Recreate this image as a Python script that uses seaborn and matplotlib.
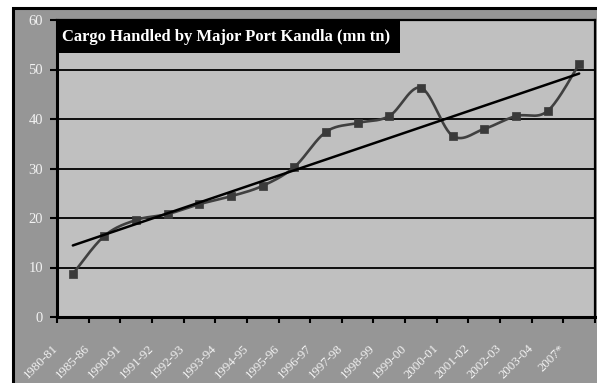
import numpy as np
import pandas as pd
import matplotlib
matplotlib.use("Agg")
import matplotlib.pyplot as plt
import matplotlib.transforms as mtransforms
from matplotlib.patches import Rectangle
import seaborn as sns

# Cargo handled at Kandla port, million tonnes
years = ["1980-81", "1985-86", "1990-91", "1991-92", "1992-93", "1993-94",
         "1994-95", "1995-96", "1996-97", "1997-98", "1998-99", "1999-00",
         "2000-01", "2001-02", "2002-03", "2003-04", "2007*"]
cargo = [8.7, 16.4, 19.6, 20.8, 22.8, 24.4, 26.5, 30.3, 37.4, 39.2, 40.6,
         46.3, 36.6, 38.0, 40.6, 41.6, 51.1]
title = "Cargo Handled by Major Port Kandla (mn tn)"

sns.set_style("white")
plt.rcParams["font.family"] = ["Liberation Serif", "DejaVu Serif"]

df = pd.DataFrame({"pos": np.arange(len(years)), "year": years, "cargo": cargo})


def catmull_rom(x, y, n=30):
    """Smooth curve through the points (uniform Catmull-Rom)."""
    p = np.column_stack([x, y]).astype(float)
    p = np.vstack([p[0], p, p[-1]])
    out = []
    t = np.linspace(0, 1, n, endpoint=False)
    for i in range(1, len(p) - 2):
        p0, p1, p2, p3 = p[i - 1], p[i], p[i + 1], p[i + 2]
        c1 = p1 + (p2 - p0) / 6.0
        c2 = p2 - (p3 - p1) / 6.0
        seg = ((1 - t) ** 3)[:, None] * p1 + (3 * (1 - t) ** 2 * t)[:, None] * c1 \
            + (3 * (1 - t) * t ** 2)[:, None] * c2 + (t ** 3)[:, None] * p2
        out.append(seg)
    out.append(p[-2][None, :])
    out = np.vstack(out)
    return out[:, 0], out[:, 1]


W, H = 597, 383
fig = plt.figure(figsize=(W / 100, H / 100), dpi=100, facecolor="white")

# outer chart frame
frame = Rectangle((13 / W, -0.2), 1.2, 1.2 - 8 / H, transform=fig.transFigure,
                  facecolor="#969696", edgecolor="black", linewidth=2.2)
frame.set_zorder(-10)
fig.patches.append(frame)

left, right, top, bottom = 57, 595, 20, 317
ax = fig.add_axes([left / W, 1 - bottom / H, (right - left) / W, (bottom - top) / H])
ax.set_zorder(1)
ax.set_facecolor("#C0C0C0")

# horizontal gridlines
for v in range(10, 60, 10):
    ax.axhline(v, color="black", lw=1.3, zorder=1)

# smoothed series line
sx, sy = catmull_rom(df["pos"].values, df["cargo"].values)
ax.plot(sx, sy, color="#404040", lw=1.9, zorder=3, solid_capstyle="round")

# square markers
sns.scatterplot(data=df, x="pos", y="cargo", marker="s", s=26, color="#3a3a3a",
                edgecolor="#3a3a3a", linewidth=0.5, zorder=4, ax=ax, legend=False)

# linear trend line
sns.regplot(data=df, x="pos", y="cargo", scatter=False, ci=None, truncate=True,
            line_kws={"color": "black", "lw": 1.8, "zorder": 5}, ax=ax)

ax.set_xlim(-0.5, len(years) - 0.5)
ax.set_ylim(0, 60)
ax.set_xlabel("")
ax.set_ylabel("")

# y axis
ax.set_yticks(range(0, 61, 10))
ax.set_yticklabels([str(v) for v in range(0, 61, 10)])
ax.tick_params(axis="y", direction="out", length=5, width=1.5, color="black",
               pad=5, labelsize=10.5, labelcolor="#f2f2f2", left=True)

# x axis: ticks on category boundaries, labels at category centres
ax.set_xticks(np.arange(-0.5, len(years) + 0.5, 1), minor=True)
ax.set_xticks(np.arange(len(years)))
ax.set_xticklabels(years)
ax.tick_params(axis="x", which="minor", direction="out", length=4, width=1.5,
               color="black", bottom=True)
ax.tick_params(axis="x", which="major", length=0, pad=0, labelsize=9.3,
               labelcolor="#f2f2f2")
offset = mtransforms.ScaledTranslation(-14 / 100, -32 / 100, fig.dpi_scale_trans)
for lab in ax.get_xticklabels():
    lab.set_rotation(45)
    lab.set_ha("right")
    lab.set_va("baseline")
    lab.set_rotation_mode("anchor")
    lab.set_transform(lab.get_transform() + offset)

for side in ["left", "bottom"]:
    ax.spines[side].set_linewidth(2.2)
for side in ["top", "right"]:
    ax.spines[side].set_linewidth(1.6)
for sp in ax.spines.values():
    sp.set_color("black")
    sp.set_visible(True)
    sp.set_zorder(6)

# title box
box_w = (400 - left) / (right - left)
box_h = (53 - top) / (bottom - top)
ax.add_patch(Rectangle((0, 1 - box_h), box_w, box_h, transform=ax.transAxes,
                       facecolor="black", edgecolor="none", zorder=7, clip_on=False))
ax.text((62 - left) / (right - left), 1 - (37 - top) / (bottom - top), title,
        transform=ax.transAxes, color="white", fontsize=12, fontweight="bold",
        va="center", ha="left", zorder=8)

fig.savefig("out.png", dpi=100, facecolor="white")
